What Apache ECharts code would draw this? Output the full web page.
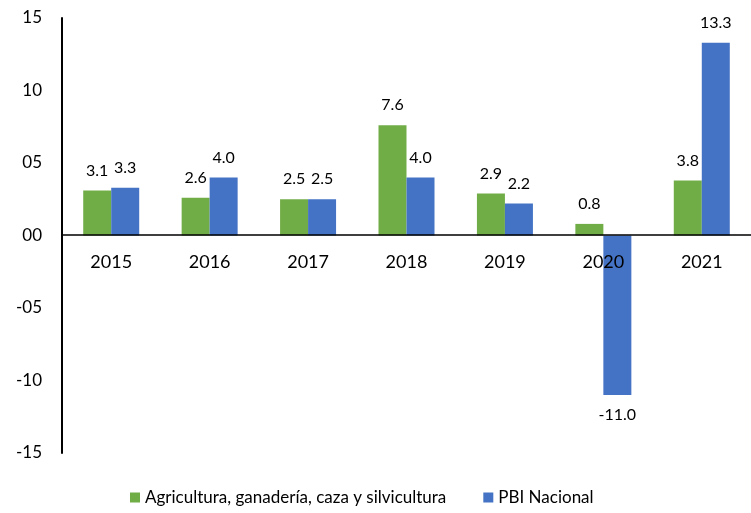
<!DOCTYPE html>
<html>
<head>
<meta charset="utf-8">
<script src="https://cdn.jsdelivr.net/npm/echarts@6/dist/echarts.min.js"></script>
<style>
  html, body { margin: 0; padding: 0; background: #fff; }
  #chart { width: 751px; height: 513px; }
</style>
</head>
<body>
<div id="chart"></div>
<script>
var years = ['2015', '2016', '2017', '2018', '2019', '2020', '2021'];
var agro = [3.1, 2.6, 2.5, 7.6, 2.9, 0.8, 3.8];
var pbi = [3.3, 4.0, 2.5, 4.0, 2.2, -11.0, 13.3];
var seriesNames = ['Agricultura, ganadería, caza y silvicultura', 'PBI Nacional'];

var font = 'Lato, "Open Sans", sans-serif';

function pad(v) {
    var a = Math.abs(v);
    var s = (a < 10 ? '0' : '') + a;
    return (v < 0 ? '-' : '') + s;
}

function withLabels(arr) {
    return arr.map(function (v) {
        return {
            value: v,
            label: { position: v < 0 ? 'bottom' : 'top' }
        };
    });
}

var labelStyle = {
    show: true,
    distance: 12,
    color: '#000',
    fontFamily: font,
    fontSize: 16,
    formatter: function (p) { return p.value.toFixed(1); }
};

var myChart = echarts.init(document.getElementById('chart'));
var option = {
    animation: false,
    backgroundColor: '#fff',
    grid: { left: 62, right: 0, top: 18, bottom: 60 },
    legend: {
        bottom: 2,
        left: 125,
        itemWidth: 10,
        itemHeight: 10,
        itemGap: 37,
        icon: 'rect',
        textStyle: { fontFamily: font, fontSize: 17, color: '#000' },
        data: seriesNames
    },
    xAxis: {
        type: 'category',
        data: years,
        position: 'bottom',
        offset: -218,
        z: 10,
        axisLine: { onZero: false, lineStyle: { color: '#000', width: 1.5 } },
        axisTick: { show: false },
        axisLabel: { color: '#000', fontFamily: font, fontSize: 18, margin: 18 }
    },
    yAxis: {
        type: 'value',
        min: -15,
        max: 15,
        interval: 5,
        splitLine: { show: false },
        axisLine: { show: true, lineStyle: { color: '#000', width: 2 } },
        axisTick: { show: false },
        axisLabel: {
            color: '#000', fontFamily: font, fontSize: 17, margin: 20,
            formatter: pad
        }
    },
    series: [{
        name: seriesNames[0],
        type: 'bar',
        barWidth: 28,
        barGap: '0%',
        itemStyle: { color: '#70AD47' },
        label: labelStyle,
        data: withLabels(agro)
    }, {
        name: seriesNames[1],
        type: 'bar',
        barWidth: 28,
        barGap: '0%',
        itemStyle: { color: '#4472C4' },
        label: labelStyle,
        data: withLabels(pbi)
    }]
};
myChart.setOption(option);
</script>
</body>
</html>
